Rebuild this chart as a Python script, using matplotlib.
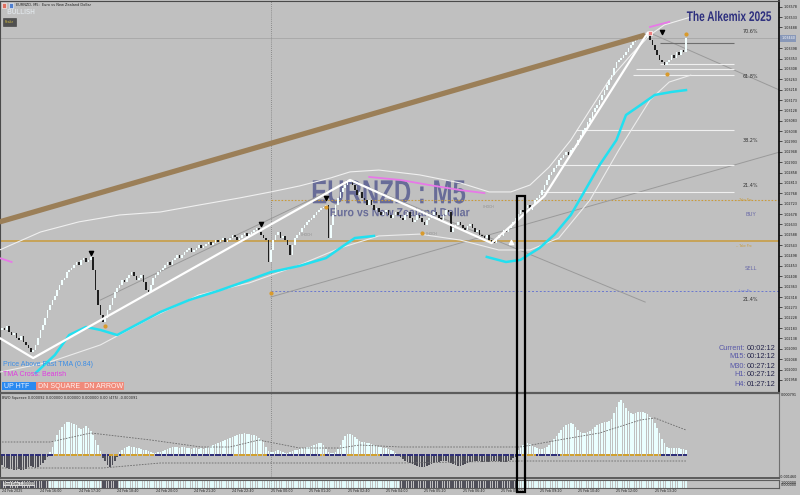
import matplotlib
matplotlib.use("Agg")
import matplotlib.pyplot as plt
from matplotlib.patches import Rectangle, PathPatch
from matplotlib.textpath import TextPath
from matplotlib.font_manager import FontProperties
from matplotlib.transforms import blended_transform_factory, Affine2D
import numpy as np

# EURNZD M5 closes, 24 Feb 14:40 -> 25 Feb 13:45
closes = [
    1.02183, 1.02175, 1.02192, 1.02166, 1.02153, 1.02162, 1.02140, 1.02131, 1.02149, 1.02123,
    1.02110, 1.02097, 1.02079, 1.02088, 1.02110, 1.02140, 1.02175, 1.02196, 1.02227, 1.02262,
    1.02283, 1.02305, 1.02322, 1.02348, 1.02370, 1.02392, 1.02400, 1.02426, 1.02435, 1.02444,
    1.02457, 1.02470, 1.02457, 1.02479, 1.02487, 1.02470, 1.02479, 1.02492, 1.02435, 1.02348,
    1.02283, 1.02240, 1.02209, 1.02227, 1.02262, 1.02283, 1.02314, 1.02340, 1.02357, 1.02370,
    1.02392, 1.02383, 1.02400, 1.02413, 1.02426, 1.02409, 1.02392, 1.02400, 1.02413, 1.02383,
    1.02348, 1.02340, 1.02370, 1.02400, 1.02413, 1.02426, 1.02435, 1.02444, 1.02457, 1.02470,
    1.02457, 1.02479, 1.02487, 1.02500, 1.02487, 1.02500, 1.02513, 1.02522, 1.02531, 1.02513,
    1.02522, 1.02531, 1.02544, 1.02531, 1.02539, 1.02548, 1.02557, 1.02544, 1.02552, 1.02565,
    1.02557, 1.02565, 1.02574, 1.02557, 1.02565, 1.02574, 1.02587, 1.02578, 1.02565, 1.02574,
    1.02587, 1.02596, 1.02583, 1.02591, 1.02600, 1.02609, 1.02617, 1.02600, 1.02587, 1.02574,
    1.02565, 1.02470, 1.02522, 1.02565, 1.02587, 1.02600, 1.02574, 1.02583, 1.02565, 1.02544,
    1.02500, 1.02544, 1.02574, 1.02587, 1.02600, 1.02617, 1.02630, 1.02644, 1.02652, 1.02661,
    1.02674, 1.02687, 1.02696, 1.02704, 1.02709, 1.02717, 1.02574, 1.02630, 1.02674, 1.02717,
    1.02748, 1.02774, 1.02791, 1.02804, 1.02817, 1.02826, 1.02804, 1.02782, 1.02761, 1.02774,
    1.02748, 1.02739, 1.02717, 1.02739, 1.02717, 1.02696, 1.02704, 1.02687, 1.02674, 1.02687,
    1.02696, 1.02674, 1.02661, 1.02674, 1.02687, 1.02674, 1.02661, 1.02652, 1.02674, 1.02687,
    1.02661, 1.02644, 1.02652, 1.02674, 1.02661, 1.02644, 1.02630, 1.02652, 1.02661, 1.02674,
    1.02687, 1.02674, 1.02661, 1.02652, 1.02674, 1.02696, 1.02687, 1.02600, 1.02617, 1.02630,
    1.02644, 1.02630, 1.02617, 1.02609, 1.02626, 1.02635, 1.02617, 1.02600, 1.02609, 1.02587,
    1.02583, 1.02574, 1.02587, 1.02565, 1.02557, 1.02552, 1.02574, 1.02587, 1.02583, 1.02609,
    1.02600, 1.02617, 1.02630, 1.02644, 1.02661, 1.02678, 1.02696, 1.02687, 1.02704, 1.02717,
    1.02696, 1.02717, 1.02739, 1.02748, 1.02761, 1.02782, 1.02804, 1.02826, 1.02848, 1.02861,
    1.02878, 1.02891, 1.02913, 1.02921, 1.02934, 1.02947, 1.02934, 1.02956, 1.02965, 1.02978,
    1.02999, 1.03021, 1.03043, 1.03051, 1.03077, 1.03095, 1.03121, 1.03138, 1.03151, 1.03173,
    1.03195, 1.03216, 1.03238, 1.03260, 1.03281, 1.03312, 1.03338, 1.03347, 1.03355, 1.03368,
    1.03381, 1.03399, 1.03412, 1.03425, 1.03433, 1.03442, 1.03451, 1.03459, 1.03442, 1.03455,
    1.03433, 1.03412, 1.03390, 1.03368, 1.03347, 1.03338, 1.03325, 1.03338, 1.03347, 1.03368,
    1.03355, 1.03381, 1.03368, 1.03390, 1.03381, 1.03440,
]
first_open = 1.02175

# BWO squeeze histogram (x 1e-5)
hist = [
    -10, -12, -13, -14, -14, -15, -15, -14, -15, -15, -14, -12, -11, -12, -13, -12, -10, -8, -5, -2,
    3, 8, 15, 20, 25, 28, 31, 33, 33, 32, 31, 30, 27, 26, 27, 29, 27, 24, 20, 15, 10, 4,
    -3, -6, -10, -12, -10, -6, -2,
    3, 5, 7, 8, 9, 8, 8, 7, 7, 6, 5, 5, 4, 3,
    2, 2, 3, 3, 4, 5,
    6, 7, 8, 8, 8, 7, 8, 8, 7, 7, 6, 7, 7, 6, 7, 6, 7, 8, 9, 10, 11, 12, 13, 14, 15, 16, 17,
    18, 19, 20, 21, 21, 22, 21, 21, 20, 20, 19, 17, 15, 13,
    8, 4, 3, 3, 4, 5, 4, 3, 2, 2,
    3, 4, 5,
    5, 6, 7, 7, 8, 8, 9, 10, 11, 12, 12, 10, 6, 3,
    2, 2, 3, 6,
    10, 15, 19, 21, 21, 20, 18, 16, 14, 13, 13, 12, 12, 11,
    10, 9, 8, 8, 7, 7, 6, 5, 4, 2, 1,
    -2, -4, -6, -7, -8, -9, -10, -11, -12, -12,
    -12, -11, -10, -9, -8, -7, -7, -6, -6, -6,
    -7, -8, -9, -10, -11, -11, -10, -9, -8, -7,
    -7, -6, -6, -6, -7, -7, -7, -7, -6, -6,
    -6, -6, -7, -7, -7, -6, -5, -3, -2,
    5, 8, 10, 11, 12, 11, 9, 8,
    7, 6, 6, 7, 8,
    10, 13, 16, 19, 22, 25, 28, 30, 31, 32,
    31, 28, 25, 23, 22, 22, 23, 24,
    26, 28, 30, 31, 32, 33, 33, 34, 36,
    42, 48, 53, 55, 52,
    47, 44, 42, 41, 42, 43, 43, 43, 42, 41,
    38, 36, 32, 27, 22, 16, 12,
    8, 7, 7, 7, 7, 7, 6, 6, 5,
]
gold_ranges = [(22, 41), (45, 48), (50, 63), (97, 110), (133, 134), (144, 157), (217, 222), (233, 274)]
sig_up_idx = [0, 20, 37, 62, 83, 95, 107, 124, 141, 149, 166, 216, 232, 249, 266, 272, 285]
sig_up_val = [13, 13, 22, 15, 8, 8, 15, 7, 7, 10, 8, 8, 15, 22, 35, 37, 25]
sig_dn_idx = [0, 42, 66, 166, 216, 285]
sig_dn_val = [-13, -13, -8, -8, -6, -6]

# overlays (bar index, price)
cyan1_idx = [14, 22, 28, 35, 41, 48, 55, 66, 78, 91, 103, 112, 124, 135, 141, 147, 155]
cyan1_val = [1.01988, 1.02066, 1.02153, 1.02188, 1.02175, 1.02153, 1.02192, 1.02253, 1.02305,
             1.02348, 1.02392, 1.02426, 1.02453, 1.02487, 1.02531, 1.02574, 1.02583]
cyan2_idx = [202, 210, 216, 224, 230, 237, 243, 249, 256, 260, 266, 272, 279, 285]
cyan2_val = [1.02492, 1.02470, 1.02479, 1.02531, 1.02587, 1.02674, 1.02782, 1.02891, 1.02999,
             1.03108, 1.03151, 1.03195, 1.03208, 1.03216]
band_up_idx = [-1, 16, 32, 49, 66, 82, 99, 112, 124, 137, 145, 157, 174, 191, 203, 212, 220,
               228, 237, 245, 253, 262, 270, 276, 287]
band_up_val = [1.02522, 1.02600, 1.02644, 1.02674, 1.02687, 1.02717, 1.02748, 1.02774, 1.02800,
               1.02835, 1.02861, 1.02869, 1.02848, 1.02813, 1.02774, 1.02774, 1.02804, 1.02882,
               1.02999, 1.03130, 1.03260, 1.03368, 1.03455, 1.03499, 1.03533]
band_dn_idx = [-1, 20, 41, 62, 82, 103, 124, 141, 157, 174, 191, 207, 220, 232, 245, 257, 270, 278, 287]
band_dn_val = [1.01992, 1.02036, 1.02110, 1.02227, 1.02327, 1.02379, 1.02457, 1.02531, 1.02583,
               1.02591, 1.02565, 1.02522, 1.02522, 1.02574, 1.02739, 1.02956, 1.03173, 1.03251, 1.03281]
pink_idx = [153, 166, 178, 191, 201]
pink_val = [1.02839, 1.02826, 1.02804, 1.02782, 1.02769]
zigzag_idx = [-1, 13, 145, 204, 226, 269]
zigzag_val = [1.02140, 1.02053, 1.02826, 1.02552, 1.02756, 1.03464]
brown_idx = [-1, 268]
brown_val = [1.02644, 1.03455]
trend_lines = [((112, 324), (1.02318, 1.02947)), ((270, 324), (1.03464, 1.03216)),
               ((145, 268), (1.02826, 1.02296)), ((41, 137), (1.02305, 1.02782))]
fib_levels = [1.03329, 1.03307, 1.03281, 1.03043, 1.02891, 1.02774]
fib_start = [274, 264, 263, 239, 231, 224]
fib_top = 1.03420
fib_labels = [("70.6%", 1.03472), ("61.8%", 1.03277), ("38.2%", 1.02999), ("21.4%", 1.02804),
              ("21.4%", 1.02305)]
take_profit = 1.02561
take_profit2 = 1.02739
stop_loss = 1.02344
current_price = 1.03440

price_ticks = [1.03578, 1.03533, 1.03488, 1.03398, 1.03353, 1.03308, 1.03263, 1.03218,
               1.03173, 1.03128, 1.03083, 1.03038, 1.02993, 1.02948, 1.02903, 1.02858, 1.02813,
               1.02768, 1.02723, 1.02678, 1.02633, 1.02588, 1.02543, 1.02498, 1.02453, 1.02408,
               1.02363, 1.02318, 1.02273, 1.02228, 1.02183, 1.02138, 1.02093, 1.02048, 1.02003, 1.01958]
time_labels = ["24 Feb 2025", "24 Feb 16:00", "24 Feb 17:20", "24 Feb 18:40", "24 Feb 20:00",
               "24 Feb 21:20", "24 Feb 22:40", "25 Feb 00:00", "25 Feb 01:20", "25 Feb 02:40",
               "25 Feb 04:00", "25 Feb 05:20", "25 Feb 06:40", "25 Feb 08:00", "25 Feb 09:20",
               "25 Feb 10:40", "25 Feb 12:00", "25 Feb 13:20"]
timer_names = ["Current:", "M15:", "M30:", "H1:", "H4:"]
timer_values = ["00:02:12", "00:12:12", "00:27:12", "00:27:12", "01:27:12"]

down_arrows = ([37, 108, 135, 275], [1.02509, 1.02635, 1.02748, 1.03468])
orange_dots = ([135, 175, 112, 43, 277, 285], [1.02709, 1.02596, 1.02335, 1.02192, 1.03286, 1.03459])
choch = ([127, 179, 203], [1.02588, 1.02591, 1.02708])

W, H = 800, 495
BG = "#c0c0c0"
SANS = ["Liberation Sans", "DejaVu Sans"]


def fx(px):
    return px / W


def fy(py):
    return 1 - py / H


fig = plt.figure(figsize=(8, 4.95), dpi=100, facecolor=BG)


def squeezed(target, x_px, y_px, s, size_pt, color, sx, weight="bold", zorder=1):
    # condensed text drawn as a path, centred on (x_px, y_px)
    tp = TextPath((0, 0), s, size=size_pt * 100 / 72, prop=FontProperties(family=SANS, weight=weight))
    bb = tp.get_extents()
    t = (Affine2D().translate(-(bb.x0 + bb.x1) / 2, -(bb.y0 + bb.y1) / 2).scale(sx, 1)
         .translate(x_px, H - y_px).scale(1 / W, 1 / H) + fig.transFigure)
    p = PathPatch(tp, transform=t, fc=color, ec="none", zorder=zorder, clip_on=False)
    target.add_artist(p)


# ---------------- main price panel
ax = fig.add_axes([0, fy(392), fx(779), 391 / H])
ax.set_facecolor(BG)
xlim = (-0.83, 323.75)
ax.set_xlim(*xlim)
ax.set_ylim(1.019057, 1.036027)

c = np.array(closes)
o = np.r_[first_open, c[:-1]]
xs = np.arange(len(c))
up = c >= o
body_b = np.minimum(o, c)
body_h = np.maximum(np.abs(c - o), 0.00005)
ax.bar(xs, body_h, 0.72, body_b, color=np.where(up, "#f2ffff", "#1e1e1e"), linewidth=0, zorder=4)

squeezed(ax, 389, 192, "EURNZD : M5", 24, "#686c98", 0.72)
squeezed(ax, 400, 212, "Euro vs New Zealand Dollar", 8.5, "#686c98", 0.9)

ax.axhline(current_price, color="#a6a6a6", lw=0.6, zorder=1)
ax.axhline(take_profit, color="#c89b3c", lw=1.1, zorder=2)
ax.hlines(take_profit2, 112, xlim[1], colors="#c89b3c", linestyles=(0, (1.5, 1.5)), lw=0.8, zorder=2)
ax.hlines(stop_loss, 112, xlim[1], colors="#6a78d0", linestyles=(0, (2, 2)), lw=0.7, zorder=2)
ax.axvline(112, color="#7a7a7a", ls=(0, (1, 1.5)), lw=0.6, zorder=1)

for (xi, yi) in trend_lines:
    ax.plot(xi, yi, color="#9a9a9a", lw=0.7, zorder=2)

ax.hlines(fib_levels, fib_start, 305, colors="#f0f0f0", lw=0.8, zorder=2)
ax.hlines(fib_top, 274, 305, colors="#6e6e6e", lw=0.8, zorder=2)
for lab, v in fib_labels:
    ax.text(312, v, lab, ha="center", va="center", fontsize=3.5, color="#333333")
ax.text(312, 1.02674, "BUY", ha="center", va="center", fontsize=3.8, color="#6a6aa8")
ax.text(312, 1.02440, "SELL", ha="center", va="center", fontsize=3.8, color="#6a6aa8")
ax.text(305.8, take_profit2, "-- Take Pro", ha="left", va="center", fontsize=2.2, color="#c89b3c")
ax.text(305.8, take_profit - 0.00022, "-- Take Pro", ha="left", va="center", fontsize=2.2, color="#c89b3c")
ax.text(305.8, stop_loss, "-- Loss Ro", ha="left", va="center", fontsize=2.2, color="#6a78d0")

ax.plot(band_up_idx, band_up_val, color="#f0f0f0", lw=0.8, zorder=3)
ax.plot(band_dn_idx, band_dn_val, color="#ececec", lw=0.8, zorder=3)
ax.plot(pink_idx, pink_val, color="#e878e8", lw=1.3, zorder=3)
ax.plot([270, 278], [1.03490, 1.03512], color="#e878e8", lw=1.3, zorder=3)
ax.plot([-1, 4], [1.02487, 1.02470], color="#e878e8", lw=1.3, zorder=3)
ax.plot(brown_idx, brown_val, color="#9b7f58", lw=3.8, solid_capstyle="butt", zorder=5)
ax.plot(cyan1_idx, cyan1_val, color="#22e0f0", lw=1.8, zorder=5)
ax.plot(cyan2_idx, cyan2_val, color="#22e0f0", lw=1.8, zorder=5)
ax.plot(zigzag_idx, zigzag_val, color="white", lw=1.6, zorder=6)

ax.scatter(*down_arrows, marker="v", s=9, c="black", zorder=7)
ax.scatter(*orange_dots, marker="o", s=4, c="#d99a2b", zorder=7)
ax.scatter([212], [1.02557], marker="^", s=9, c="white", zorder=7)
ax.scatter([270], [1.03464], marker="s", s=8, c="#f08080", edgecolors="white", linewidths=0.5, zorder=7)
for xi, yi in zip(*choch):
    ax.text(xi, yi, "CHOCH", fontsize=2.3, color="#8e8e8e", ha="center", va="center", zorder=3)

ax.set_xticks([])
ax.yaxis.tick_right()
ax.set_yticks(price_ticks)
ax.set_yticklabels([f"{v:.5f}" for v in price_ticks])
ax.tick_params(axis="y", length=2, width=0.5, labelsize=2.4, pad=1.5, colors="#1a1a1a")
for s in ("left", "top"):
    ax.spines[s].set_color("#4a4a4a")
ax.spines["right"].set_color("black")
ax.spines["right"].set_linewidth(1.2)
ax.spines["bottom"].set_visible(False)

tr = blended_transform_factory(ax.transAxes, ax.transData)
ax.text(1.003, current_price, f"{current_price:.5f}", transform=tr, fontsize=2.4, color="white",
        va="center", ha="left", bbox=dict(boxstyle="square,pad=0.35", fc="#8898b8", ec="none"))

# ---------------- indicator panel
ax2 = fig.add_axes([0, fy(478), fx(779), 85 / H])
ax2.set_facecolor(BG)
ax2.set_xlim(*xlim)
ax2.set_ylim(-23e-5, 62e-5)
hv = np.array(hist) * 1e-5
hx = np.arange(len(hv))
ax2.bar(hx, hv, 0.68, color=np.where(hv >= 0, "#eaffff", "#4c4c56"), linewidth=0, zorder=3)
ax2.plot(sig_up_idx, np.array(sig_up_val) * 1e-5, color="#6a6a6a", ls=(0, (2, 1.5)), lw=0.6, zorder=4)
ax2.plot(sig_dn_idx, np.array(sig_dn_val) * 1e-5, color="#6a6a6a", ls=(0, (2, 1.5)), lw=0.6, zorder=4)
gold = np.zeros(len(hv), bool)
for a, b in gold_ranges:
    gold[a:b + 1] = True
ax2.scatter(hx, np.zeros(len(hv)), marker="s", s=2.2, linewidths=0,
            c=np.where(gold, "#d0a030", "#30307a"), zorder=5)
ax2.axvline(112, color="#7a7a7a", ls=(0, (1, 1.5)), lw=0.6, zorder=1)
ax2.set_xticks([])
ax2.set_yticks([])
ax2.spines["top"].set_color("#5c5c5c")
ax2.spines["top"].set_linewidth(1.6)
ax2.spines["bottom"].set_color("#5c5c5c")
ax2.spines["bottom"].set_linewidth(1.4)
ax2.spines["left"].set_color("#4a4a4a")
ax2.spines["right"].set_color("#707070")
ax2.text(0.003, 0.965, "BWO Squeeze 0.000092 0.000000 0.000000 0.000000 0.00 (475) -0.000091",
         transform=ax2.transAxes, fontsize=2.5, color="#222222", va="top", ha="left")

# ---------------- trend strip
ax3 = fig.add_axes([0, fy(488), fx(779), 8 / H])
ax3.set_facecolor(BG)
ax3.set_xlim(*xlim)
ax3.set_ylim(0, 1)
ax3.bar(hx, 1, 0.68, color=np.where(hv >= 0, "#e2fbfb", "#50505a"), linewidth=0)
ax3.axvline(112, color="#7a7a7a", ls=(0, (1, 1.5)), lw=0.6)
ax3.set_xticks([])
ax3.set_yticks([])
for s in ax3.spines.values():
    s.set_color("#5c5c5c")
    s.set_linewidth(0.8)
ax3.text(0.004, 0.5, "Trend Dots 1.000000", transform=ax3.transAxes, fontsize=2.2, color="#222222",
         va="center", ha="left", bbox=dict(boxstyle="square,pad=0.1", fc="#d8d8d8", ec="none"))
for k, lab in enumerate(time_labels):
    ax3.text(16 * k, -0.42, lab, ha="left", va="center", fontsize=2.3, color="#222222")

# ---------------- free texts
fig.text(fx(781), fy(395), "0.000791", fontsize=2.4, color="#1a1a1a", va="center")
fig.text(fx(780), fy(477), "-0.001460", fontsize=2.4, color="#1a1a1a", va="center")
fig.text(fx(781), fy(482.5), "1.000000", fontsize=2.4, color="#1a1a1a", va="center")
fig.text(fx(781), fy(485.5), "0.000000", fontsize=2.4, color="#1a1a1a", va="center")

squeezed(fig, 729, 16, "The Alkemix 2025", 10, "#2d2f7e", 0.73, zorder=3)
fig.text(fx(16), fy(5.5), "EURNZD, M5:  Euro vs New Zealand Dollar", fontsize=2.5,
         color="#202020", va="center")
fig.add_artist(Rectangle((fx(2), fy(8)), fx(4), 5 / H, transform=fig.transFigure, fc="#e07060", ec="white", lw=0.4))
fig.add_artist(Rectangle((fx(9), fy(8)), fx(4), 5 / H, transform=fig.transFigure, fc="#5080d0", ec="white", lw=0.4))
squeezed(fig, 21, 11.5, "BULLISH", 5.4, "#dde2e6", 0.85, zorder=3)
fig.text(fx(5), fy(22), "Realiz", fontsize=2.2, color="#d8c040", va="center",
         bbox=dict(boxstyle="square,pad=0.5", fc="#505050", ec="#3a3a3a", lw=0.4))

fig.text(fx(3), fy(364.5), "Price Above Fast TMA (0.84)", fontsize=5.0, color="#3b8de6",
         va="center", family=SANS)
fig.text(fx(3), fy(374), "TMA Cross: Bearish", fontsize=5.0, color="#e03ce0", va="center", family=SANS)
fig.add_artist(Rectangle((fx(2), fy(390)), fx(34), 8 / H, transform=fig.transFigure, fc="#2b8af0", ec="none"))
fig.add_artist(Rectangle((fx(36), fy(390)), fx(88), 8 / H, transform=fig.transFigure, fc="#f08a7a", ec="none"))
fig.text(fx(3.5), fy(386), "UP HTF", fontsize=5.0, color="#e8f0ff", va="center", family=SANS)
fig.text(fx(37.5), fy(386), "DN SQUARE  DN ARROW", fontsize=5.0, color="#fff2f0", va="center", family=SANS)

for k, (nm, tv) in enumerate(zip(timer_names, timer_values)):
    yy = fy(348 + 9 * k)
    fig.text(fx(745.5), yy, nm, ha="right", va="center", fontsize=5.3, color="#5858a8", family=SANS)
    fig.text(fx(747), yy, tv, ha="left", va="center", fontsize=5.3, color="#25254a", family=SANS)

# highlighted box across both panels
box_bars = (214.6, 218.0)
box_top = 1.02756
top_frac = fig.transFigure.inverted().transform(ax.transData.transform((0, box_top)))[1]
btr = blended_transform_factory(ax.transData, fig.transFigure)
fig.add_artist(Rectangle((box_bars[0], 0.006), box_bars[1] - box_bars[0], top_frac - 0.006,
                         transform=btr, fill=False, ec="black", lw=1.6))

fig.savefig("out.png", dpi=100, facecolor=BG)
